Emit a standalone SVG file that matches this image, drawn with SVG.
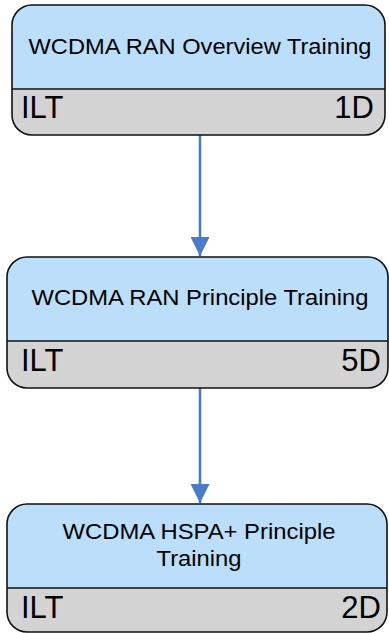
<svg xmlns="http://www.w3.org/2000/svg" width="389" height="633" viewBox="0 0 389 633">
  <style>
    .head { fill: #bbdefb; }
    .foot { fill: #d3d3d3; }
    .frame { fill: none; stroke: #111; stroke-width: 1.6; }
    .title { font-family: "Liberation Sans", Arial, sans-serif; font-size: 22.5px; fill: #000; text-anchor: middle; }
    .meta { font-family: "Liberation Sans", Arial, sans-serif; font-size: 31px; fill: #000; }
    .link { stroke: #4a7bc8; stroke-width: 2.6; fill: none; }
  </style>
  <defs>
    <marker id="arrow" markerUnits="userSpaceOnUse" markerWidth="20" markerHeight="19" refX="19" refY="9.5" orient="auto">
      <path d="M0,0 L19,9.5 L0,19 Z" fill="#4a7bc8"/>
    </marker>
  </defs>

  <g id="connectors">
    <line class="link" x1="200" y1="135" x2="200" y2="256" marker-end="url(#arrow)"/>
    <line class="link" x1="200" y1="388" x2="200" y2="503" marker-end="url(#arrow)"/>
  </g>

  <g id="node-overview">
    <rect class="head" x="12" y="5" width="373" height="130" rx="20" ry="20"/>
    <path class="foot" d="M12,89 H385 V115 A20,20 0 0 1 365,135 H32 A20,20 0 0 1 12,115 Z"/>
    <rect class="frame" x="12" y="5" width="373" height="130" rx="20" ry="20"/>
    <line class="frame" x1="12" y1="89" x2="385" y2="89"/>
    <text class="title" x="200" y="54" textLength="343" lengthAdjust="spacingAndGlyphs">WCDMA RAN Overview Training</text>
    <text class="meta" x="21" y="118">ILT</text>
    <text class="meta" x="374" y="118" text-anchor="end">1D</text>
  </g>

  <g id="node-principle">
    <rect class="head" x="7" y="257" width="381" height="131" rx="20" ry="20"/>
    <path class="foot" d="M7,341 H388 V368 A20,20 0 0 1 368,388 H27 A20,20 0 0 1 7,368 Z"/>
    <rect class="frame" x="7" y="257" width="381" height="131" rx="20" ry="20"/>
    <line class="frame" x1="7" y1="341" x2="388" y2="341"/>
    <text class="title" x="200" y="305" textLength="337" lengthAdjust="spacingAndGlyphs">WCDMA RAN Principle Training</text>
    <text class="meta" x="21" y="371">ILT</text>
    <text class="meta" x="381" y="371" text-anchor="end">5D</text>
  </g>

  <g id="node-hspa">
    <rect class="head" x="7" y="504" width="380" height="128" rx="20" ry="20"/>
    <path class="foot" d="M7,588 H387 V612 A20,20 0 0 1 367,632 H27 A20,20 0 0 1 7,612 Z"/>
    <rect class="frame" x="7" y="504" width="380" height="128" rx="20" ry="20"/>
    <line class="frame" x1="7" y1="588" x2="387" y2="588"/>
    <text class="title" x="199" y="539" textLength="273" lengthAdjust="spacingAndGlyphs">WCDMA HSPA+ Principle</text>
    <text class="title" x="199" y="566" textLength="85" lengthAdjust="spacingAndGlyphs">Training</text>
    <text class="meta" x="21" y="618">ILT</text>
    <text class="meta" x="381" y="618" text-anchor="end">2D</text>
  </g>
</svg>
